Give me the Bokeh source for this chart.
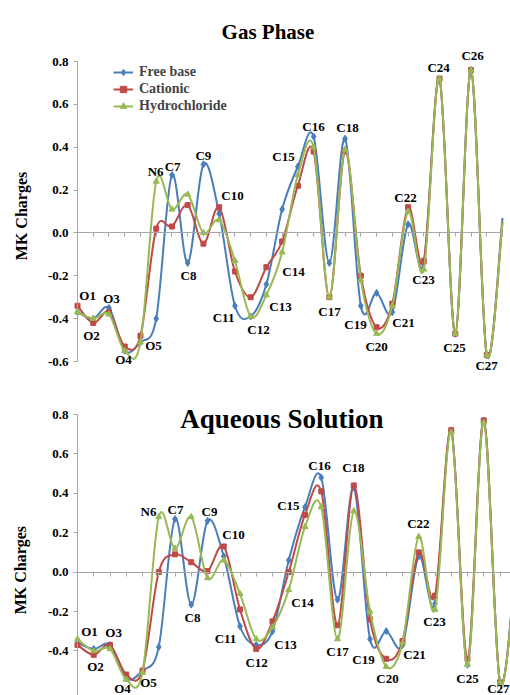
import math
from bokeh.plotting import figure
from bokeh.models import (Range1d, LinearAxis, FixedTicker, NumeralTickFormatter,
                          ColumnDataSource, LabelSet, Label, Legend, LegendItem)
from bokeh.layouts import column
from bokeh.core.properties import value
from bokeh.embed import file_html
from bokeh.resources import INLINE

# ---------------- data ----------------
atoms = ["O1", "O2", "O3", "O4", "O5", "N6", "C7", "C8", "C9", "C10", "C11", "C12",
         "C13", "C14", "C15", "C16", "C17", "C18", "C19", "C20", "C21", "C22", "C23",
         "C24", "C25", "C26", "C27", ""]
series_names = ["Free base", "Cationic", "Hydrochloride"]

gas_free = [-0.37, -0.40, -0.35, -0.55, -0.51, -0.40, 0.27, -0.14, 0.32, 0.09, -0.34, -0.39,
            -0.24, 0.11, 0.31, 0.45, -0.14, 0.44, -0.34, -0.28, -0.37, 0.04, -0.14,
            0.72, -0.47, 0.76, -0.57, 0.07]
gas_cat = [-0.34, -0.42, -0.37, -0.53, -0.48, 0.02, 0.03, 0.13, -0.05, 0.12, -0.18, -0.30,
           -0.16, -0.04, 0.22, 0.38, -0.30, 0.38, -0.20, -0.44, -0.33, 0.12, -0.13,
           0.72, -0.47, 0.76, -0.57, 0.05]
gas_hcl = [-0.37, -0.40, -0.38, -0.55, -0.51, 0.24, 0.11, 0.18, 0.00, 0.06, -0.13, -0.39,
           -0.29, -0.09, 0.27, 0.40, -0.30, 0.39, -0.22, -0.47, -0.34, 0.10, -0.17,
           0.72, -0.47, 0.76, -0.57, 0.05]

aq_free = [-0.36, -0.39, -0.37, -0.54, -0.50, -0.38, 0.27, -0.165, 0.26, 0.08, -0.275, -0.37,
           -0.30, 0.06, 0.33, 0.48, -0.14, 0.43, -0.34, -0.30, -0.37, 0.08, -0.16,
           0.72, -0.47, 0.77, -0.56, 0.07]
aq_cat = [-0.37, -0.42, -0.37, -0.52, -0.50, 0.00, 0.09, 0.05, 0.005, 0.13, -0.19, -0.39,
          -0.25, 0.00, 0.29, 0.41, -0.27, 0.44, -0.24, -0.44, -0.35, 0.10, -0.12,
          0.72, -0.44, 0.77, -0.56, 0.05]
aq_hcl = [-0.34, -0.40, -0.39, -0.545, -0.51, 0.28, 0.12, 0.28, -0.03, 0.06, -0.11, -0.34,
          -0.28, -0.09, 0.23, 0.33, -0.34, 0.31, -0.20, -0.48, -0.36, 0.18, -0.19,
          0.71, -0.47, 0.76, -0.56, 0.05]

gas_y_ticks = [-0.6, -0.4, -0.2, 0.0, 0.2, 0.4, 0.6, 0.8]
aq_y_ticks = [-0.4, -0.2, 0.0, 0.2, 0.4, 0.6, 0.8]

# atom-label placement (text centres, in data units)
gas_lab_names = ["O1", "O2", "O3", "O4", "O5", "N6", "C7", "C8", "C9", "C10", "C11", "C12",
                 "C13", "C14", "C15", "C16", "C17", "C18", "C19", "C20", "C21", "C22", "C23",
                 "C24", "C25", "C26", "C27"]
gas_lab_x = [1.64, 1.89, 3.16, 3.92, 5.83, 5.96, 7.04, 8.05, 9.0, 10.85, 10.28, 12.5,
             13.9, 14.72, 14.09, 15.99, 17.01, 18.15, 18.66, 20.0, 21.71, 21.84, 22.98,
             23.94, 24.95, 26.1, 26.99]
gas_lab_y = [-0.293, -0.479, -0.307, -0.591, -0.526, 0.288, 0.312, -0.20, 0.363, 0.177, -0.395, -0.451,
             -0.344, -0.181, 0.358, 0.498, -0.367, 0.493, -0.428, -0.53, -0.419, 0.167, -0.219,
             0.772, -0.535, 0.828, -0.619]

aq_lab_names = ["O1", "O2", "O3", "O4", "O5", "N6", "C7", "C8", "C9", "C10", "C11", "C12",
                "C13", "C14", "C15", "C16", "C17", "C18", "C19", "C20", "C21", "C22", "C23",
                "C25", "C27"]
aq_lab_x = [1.74, 2.11, 3.22, 3.77, 5.37, 5.37, 7.03, 8.08, 9.12, 10.6, 10.11, 12.02,
            13.8, 14.85, 13.98, 15.89, 17.0, 17.98, 18.6, 20.08, 21.74, 21.98, 22.97,
            25.0, 26.9]
aq_lab_y = [-0.30, -0.478, -0.305, -0.59, -0.56, 0.31, 0.316, -0.229, 0.31, 0.193, -0.336, -0.458,
            -0.366, -0.153, 0.336, 0.539, -0.402, 0.529, -0.443, -0.539, -0.417, 0.249, -0.249,
            -0.539, -0.59]

# ---------------- style / layout ----------------
COLORS = ["#4A7EBB", "#BE4B48", "#98B954"]
MARKERS = ["diamond", "square", "triangle"]
MSIZE = [7, 5, 6]
SERIF = "Liberation Serif"
AXIS_GRAY = "#A6A6A6"
FIG_W = 510
AX_PX = 77          # pixels from figure left edge to the vertical axis
N_LABELLED = 27     # points that carry a marker (the last one sits on the frame edge)


def bezier_source(xs, ys):
    """Excel-style smoothed path: one cubic Bezier per pair of neighbouring points."""
    n = len(xs)
    d = dict(x0=[], y0=[], x1=[], y1=[], cx0=[], cy0=[], cx1=[], cy1=[])
    for i in range(n - 1):
        a = max(i - 1, 0)
        b = min(i + 2, n - 1)
        d["x0"].append(xs[i]); d["y0"].append(ys[i])
        d["x1"].append(xs[i + 1]); d["y1"].append(ys[i + 1])
        d["cx0"].append(xs[i] + (xs[i + 1] - xs[a]) / 6.0)
        d["cy0"].append(ys[i] + (ys[i + 1] - ys[a]) / 6.0)
        d["cx1"].append(xs[i + 1] - (xs[b] - xs[i]) / 6.0)
        d["cy1"].append(ys[i + 1] - (ys[b] - ys[i]) / 6.0)
    return ColumnDataSource(d)


def make_panel(series, step, ppu, top_px, height, y_ticks, axis_low,
               lab_names, lab_x, lab_y, with_legend):
    # step: pixels per category, ppu: pixels per charge unit,
    # top_px: pixels from figure top down to the 0.8 level
    x0 = 1 - AX_PX / step
    x1 = 1 + (FIG_W - AX_PX) / step
    ytop = 0.8 + top_px / ppu
    ybot = ytop - height / ppu
    p = figure(width=FIG_W, height=height, output_backend="svg", toolbar_location=None,
               x_range=Range1d(x0, x1), y_range=Range1d(ybot, ytop),
               x_axis_location=None, y_axis_location=None,
               min_border_left=0, min_border_right=0,
               min_border_top=0, min_border_bottom=0)
    p.outline_line_color = None
    p.xgrid.visible = False
    p.ygrid.visible = False
    p.background_fill_color = "white"
    p.border_fill_color = "white"

    xs = list(range(1, len(atoms) + 1))

    yax = LinearAxis(ticker=FixedTicker(ticks=y_ticks), fixed_location=1,
                     bounds=(axis_low, 0.8),
                     formatter=NumeralTickFormatter(format="0.0"))
    yax.axis_line_color = AXIS_GRAY
    yax.major_tick_line_color = AXIS_GRAY
    yax.major_tick_out = 4
    yax.major_tick_in = 0
    yax.minor_tick_line_color = None
    yax.major_label_standoff = 5
    yax.major_label_text_font = SERIF
    yax.major_label_text_font_style = "bold"
    yax.major_label_text_font_size = "13px"
    yax.major_label_text_color = "black"
    p.add_layout(yax, "left")

    xax = LinearAxis(ticker=FixedTicker(ticks=xs), fixed_location=0,
                     bounds=(xs[0], xs[-1]))
    xax.axis_line_color = AXIS_GRAY
    xax.major_tick_line_color = AXIS_GRAY
    xax.major_tick_out = 4
    xax.major_tick_in = 0
    xax.minor_tick_line_color = None
    xax.major_label_overrides = {x: "" for x in xs}
    p.add_layout(xax, "below")

    items = []
    for k, ys in enumerate(series):
        src = bezier_source(xs, ys)
        p.bezier(x0="x0", y0="y0", x1="x1", y1="y1", cx0="cx0", cy0="cy0",
                 cx1="cx1", cy1="cy1", source=src, line_color=COLORS[k], line_width=2)
        sr = p.scatter(xs[:N_LABELLED], ys[:N_LABELLED], marker=MARKERS[k], size=MSIZE[k],
                       fill_color=COLORS[k], line_color=COLORS[k])
        lr = p.line(x=xs[:1], y=ys[:1], line_color=COLORS[k], line_width=2)
        items.append(LegendItem(label=series_names[k], renderers=[lr, sr]))

    labs = ColumnDataSource(dict(x=lab_x, y=lab_y, t=lab_names))
    p.add_layout(LabelSet(x="x", y="y", text="t", source=labs, text_align="center",
                          text_baseline="middle", text_font=value(SERIF),
                          text_font_style="bold", text_font_size="13px",
                          text_color="black"))

    if with_legend:
        lg = Legend(items=items, location=(113, height - 114), glyph_width=20,
                    glyph_height=16, label_height=16, spacing=1, padding=0, margin=0,
                    label_standoff=6, label_text_font=SERIF, label_text_font_style="bold",
                    label_text_font_size="14px", border_line_alpha=0,
                    background_fill_alpha=0)
        p.add_layout(lg)
    return p


gas = make_panel([gas_free, gas_cat, gas_hcl], 425 / 27, 300 / 1.4, 61, 381,
                 gas_y_ticks, -0.6, gas_lab_names, gas_lab_x, gas_lab_y, True)
gas.add_layout(Label(x=13.1, y=0.94, text="Gas Phase", text_align="center",
                     text_baseline="alphabetic", text_font=SERIF, text_font_style="bold",
                     text_font_size="21px", text_color="black"))
gas.add_layout(Label(x=-2.56, y=0.079, text="MK Charges", angle=math.pi / 2,
                     text_align="center", text_baseline="middle", text_font=SERIF,
                     text_font_style="bold", text_font_size="16px", text_color="black"))

aq = make_panel([aq_free, aq_cat, aq_hcl], 16.25, 197.0, 33, 314,
                aq_y_ticks, -1.0, aq_lab_names, aq_lab_x, aq_lab_y, False)
aq.add_layout(Label(x=13.58, y=0.779, text="Aqueous Solution", text_align="center",
                    text_baseline="alphabetic", text_font=SERIF, text_font_style="bold",
                    text_font_size="27px", text_color="black"))
aq.add_layout(Label(x=-2.51, y=0.01, text="MK Charges", angle=math.pi / 2,
                    text_align="center", text_baseline="middle", text_font=SERIF,
                    text_font_style="bold", text_font_size="16px", text_color="black"))

layout = column(gas, aq, spacing=0)
open("out.html", "w").write(file_html(layout, INLINE))
